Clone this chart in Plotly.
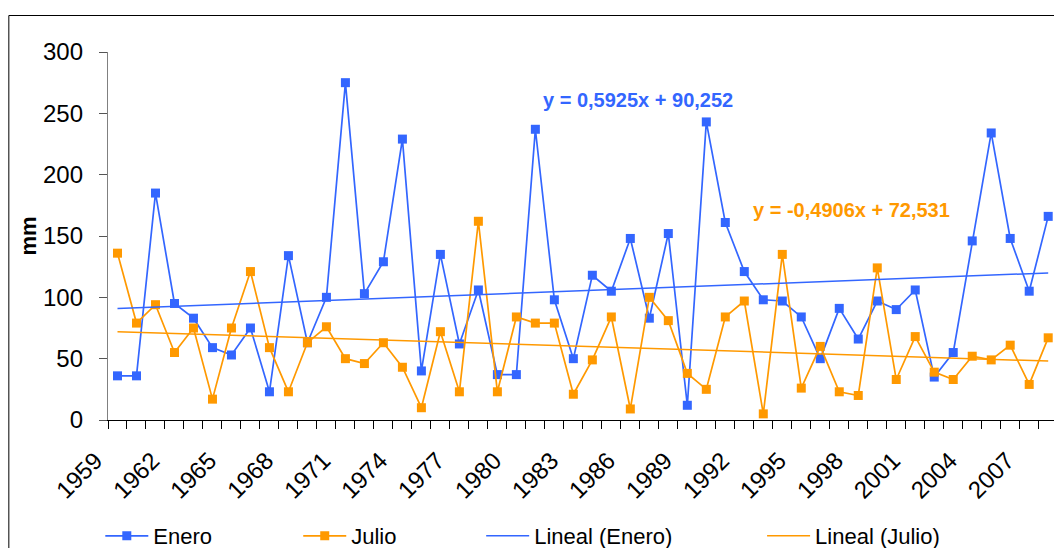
import plotly.graph_objects as go

# ---- data ----
years = list(range(1959, 2009))
enero = [36, 36, 185, 95, 83, 59, 53, 75, 23, 134,
         63, 100, 275, 103, 129, 229, 40, 135, 62, 106,
         37, 37, 237, 98, 50, 118, 105, 148, 83, 152,
         12, 243, 161, 121, 98, 97, 84, 50, 91, 66,
         97, 90, 106, 35, 55, 146, 234, 148, 105, 166]
julio = [136, 79, 94, 55, 75, 17, 75, 121, 59, 23,
         63, 76, 50, 46, 63, 43, 10, 72, 23, 162,
         23, 84, 79, 79, 21, 49, 84, 9, 100, 81,
         38, 25, 84, 97, 5, 135, 26, 60, 23, 20,
         124, 33, 68, 39, 33, 52, 49, 61, 29, 67]
# trend equations shown on the chart (x = 1..n)
enero_slope, enero_icpt = 0.5925, 90.252
julio_slope, julio_icpt = -0.4906, 72.531
eq_enero = "y = 0,5925x + 90,252"
eq_julio = "y = -0,4906x + 72,531"
tick_years = list(range(1959, 2009, 3))
names = ["Enero", "Julio", "Lineal (Enero)", "Lineal (Julio)"]

BLUE = "#3366FF"
ORANGE = "#FF9900"
FONT = "Liberation Sans, Arial, sans-serif"

W, H = 1054, 548
L, T, B = 107.7, 52, 128
PW = W - L
PH = H - T - B


def px_x(px):
    return (px - L) / PW


def px_y(py):
    return (H - B - py) / PH


n = len(years)
trend_x = [years[0], years[-1]]
trend_e = [enero_slope * 1 + enero_icpt, enero_slope * n + enero_icpt]
trend_j = [julio_slope * 1 + julio_icpt, julio_slope * n + julio_icpt]

fig = go.Figure()
fig.add_trace(go.Scatter(x=years, y=enero, name=names[0], mode="lines+markers",
                         line=dict(color=BLUE, width=1.7),
                         marker=dict(symbol="square", size=9, color=BLUE),
                         legend="legend"))
fig.add_trace(go.Scatter(x=years, y=julio, name=names[1], mode="lines+markers",
                         line=dict(color=ORANGE, width=1.7),
                         marker=dict(symbol="square", size=9, color=ORANGE),
                         legend="legend2"))
fig.add_trace(go.Scatter(x=trend_x, y=trend_e, name=names[2], mode="lines",
                         line=dict(color=BLUE, width=1.5), legend="legend3"))
fig.add_trace(go.Scatter(x=trend_x, y=trend_j, name=names[3], mode="lines",
                         line=dict(color=ORANGE, width=1.5), legend="legend4"))

leg_common = dict(orientation="h", yanchor="middle", xanchor="left",
                  itemwidth=43,
                  font=dict(family=FONT, size=22, color="black"),
                  bgcolor="rgba(0,0,0,0)", borderwidth=0)
ly = px_y(536)
fig.update_layout(
    legend=dict(x=px_x(105 - 5), y=ly, **leg_common),
    legend2=dict(x=px_x(303 - 5), y=ly, **leg_common),
    legend3=dict(x=px_x(486 - 5), y=ly, **leg_common),
    legend4=dict(x=px_x(767 - 5), y=ly, **leg_common),
)

fig.update_layout(
    width=W, height=H,
    margin=dict(l=L, r=0, t=T, b=B, pad=0, autoexpand=False),
    paper_bgcolor="white", plot_bgcolor="white",
    font=dict(family=FONT, color="black"),
    showlegend=True,
    xaxis=dict(range=[1958.5, 1958.5 + PW / 19.0], showgrid=False, zeroline=False,
               showline=True, linecolor="black", linewidth=1,
               tickmode="array", tickvals=tick_years,
               ticktext=[str(y) for y in tick_years],
               ticks="", tickangle=-45, ticklabelstandoff=16, ticklabelshift=-22,
               tickfont=dict(family=FONT, size=24, color="black"),
               minor=dict(ticks="outside", ticklen=8, tickcolor="black",
                          tick0=1958.5, dtick=1, showgrid=False)),
    yaxis=dict(range=[0, 300], dtick=50, showgrid=False, zeroline=False,
               showline=True, linecolor="#808080", linewidth=1.3,
               ticks="outside", ticklen=8, tickcolor="#555555",
               ticklabelstandoff=11,
               tickfont=dict(family=FONT, size=24, color="black"),
               title=dict(text="<b>mm</b>", standoff=0,
                          font=dict(family=FONT, size=22, color="black"))),
    annotations=[
        dict(text="<b>" + eq_enero + "</b>", xref="paper", yref="paper",
             x=px_x(637.5), y=px_y(100), xanchor="center", yanchor="middle",
             showarrow=False, font=dict(family=FONT, size=20, color=BLUE)),
        dict(text="<b>" + eq_julio + "</b>", xref="paper", yref="paper",
             x=px_x(851), y=px_y(210), xanchor="center", yanchor="middle",
             showarrow=False, font=dict(family=FONT, size=20, color=ORANGE)),
    ],
    shapes=[dict(type="rect", xref="paper", yref="paper",
                 x0=px_x(8.5), x1=px_x(1070), y0=px_y(570), y1=px_y(15.5),
                 line=dict(color="black", width=1), layer="below")],
)

fig.write_html("out.html")
